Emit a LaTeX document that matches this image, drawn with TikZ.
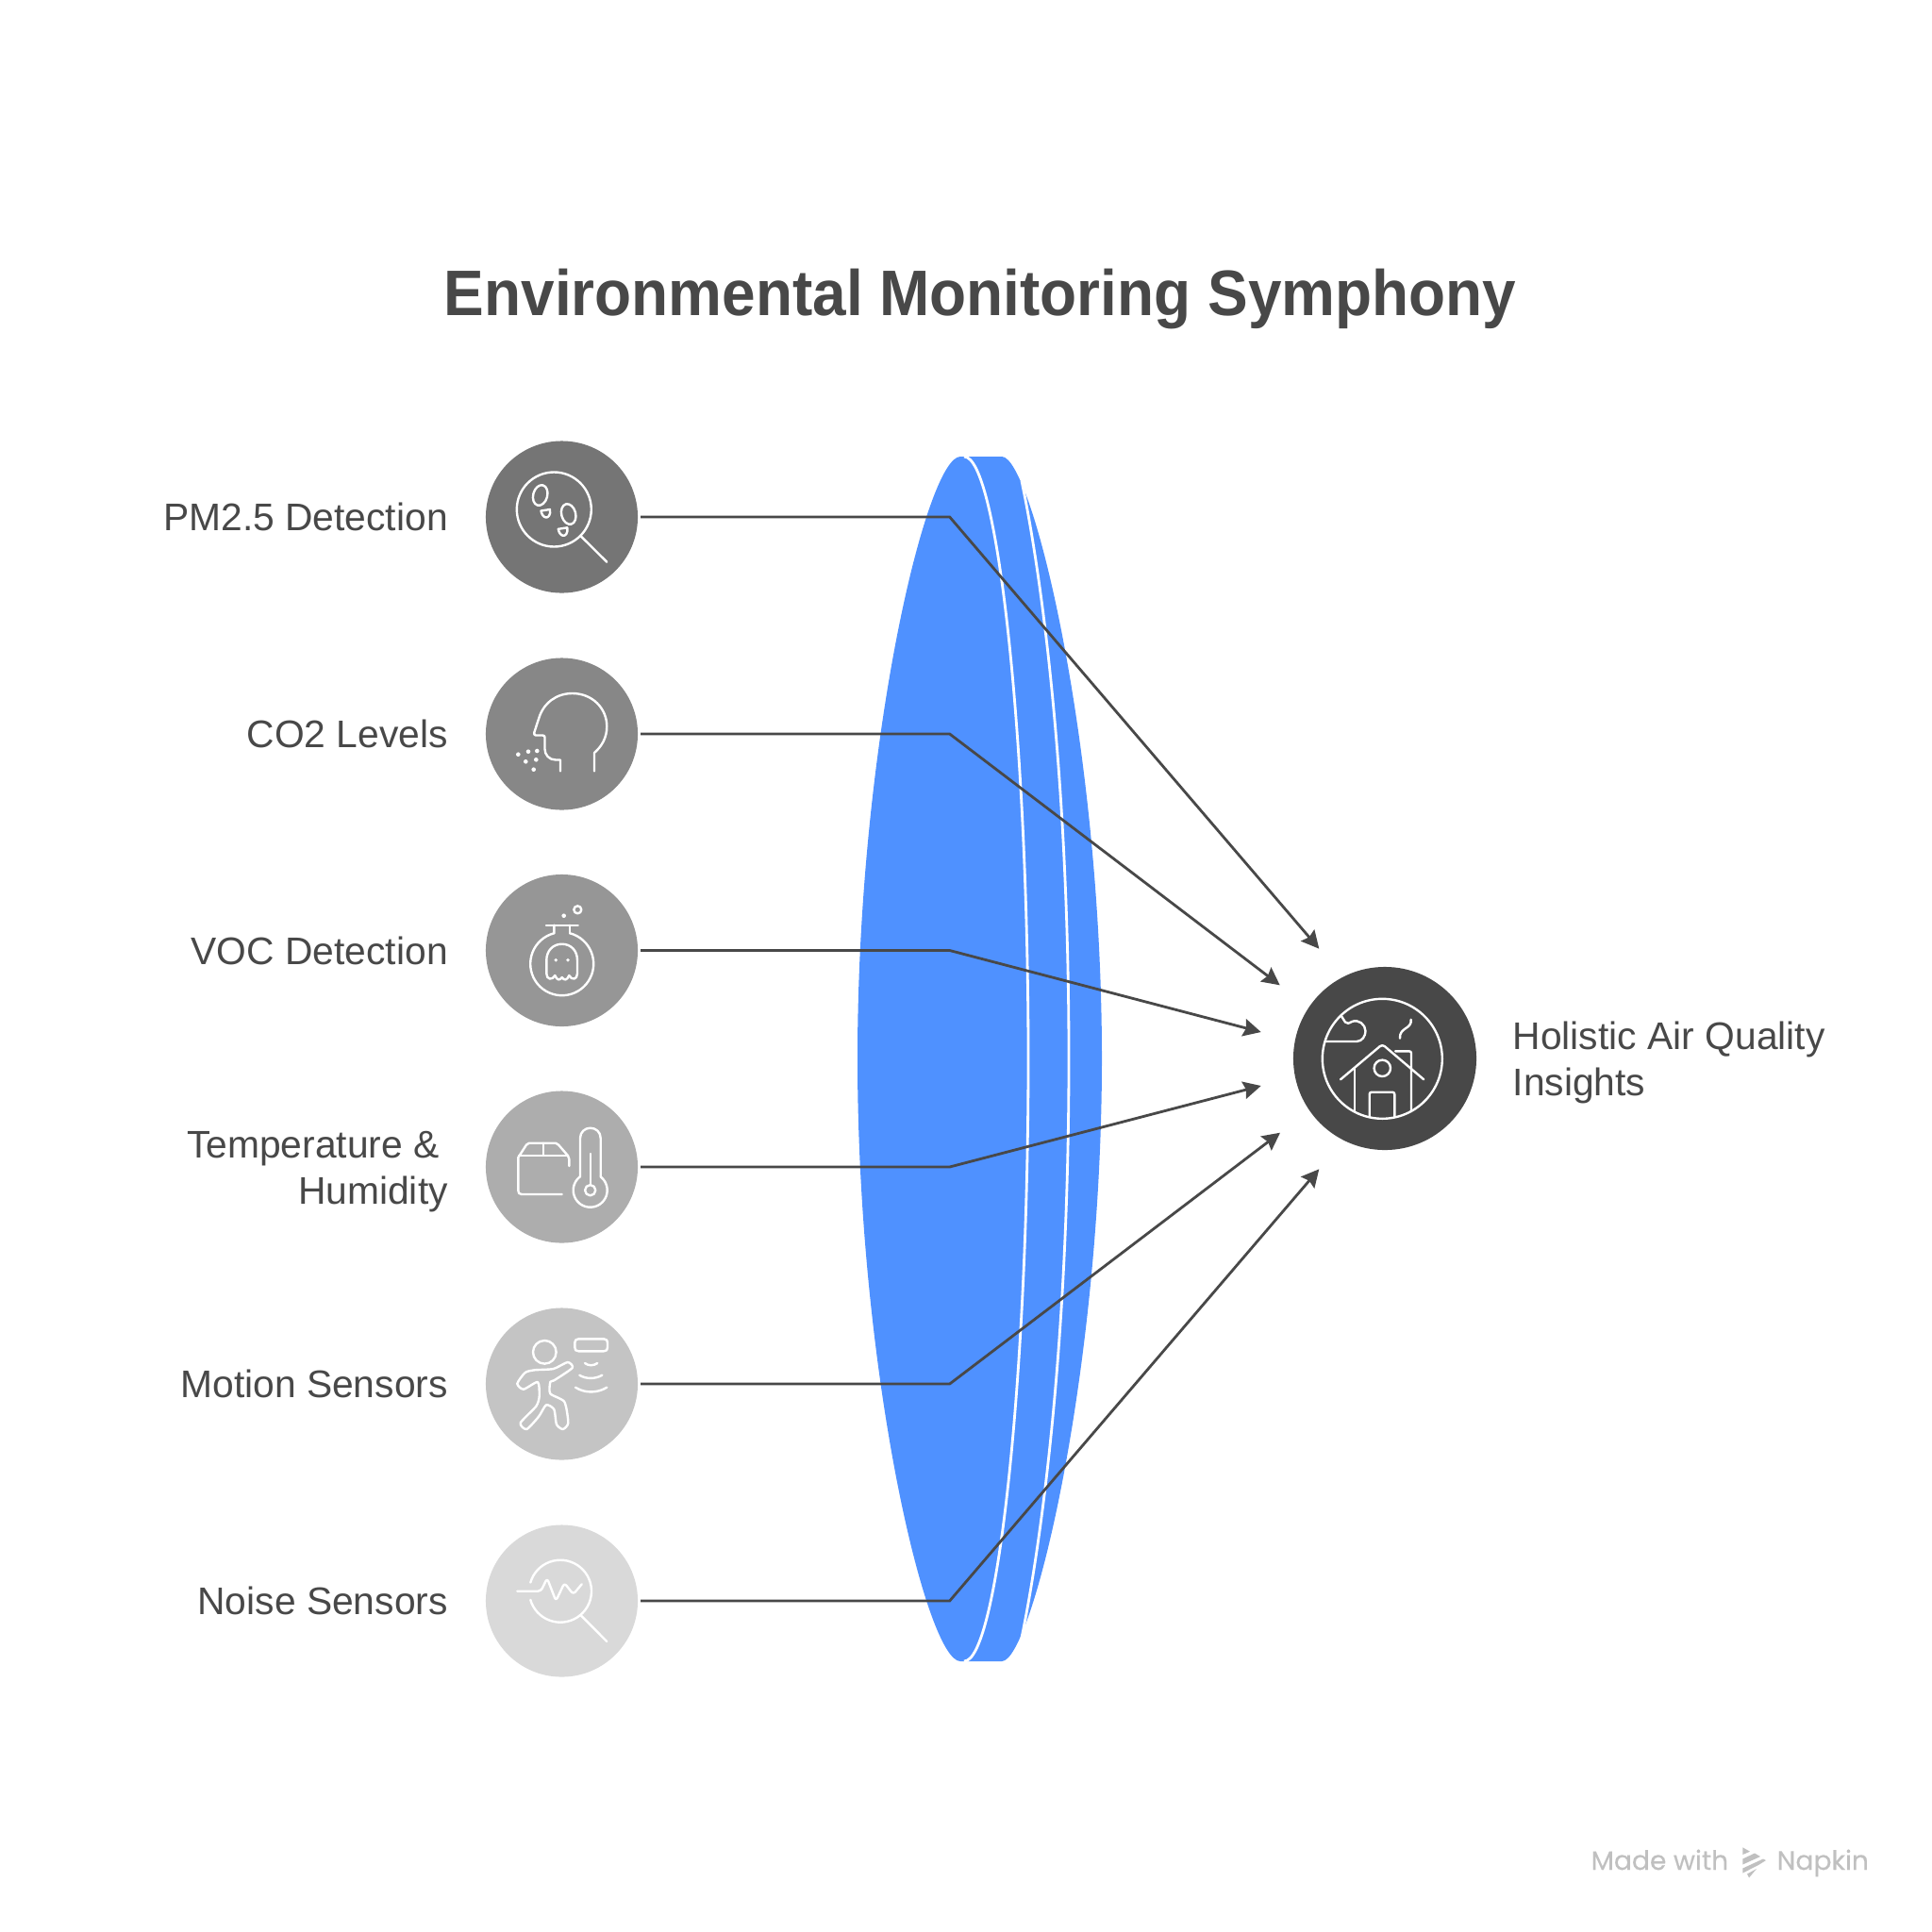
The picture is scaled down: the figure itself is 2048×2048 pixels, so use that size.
\documentclass[tikz,border=0pt]{standalone}
\usepackage{fontspec}
\setmainfont{Liberation Sans}
\newfontfamily\titlefont[FakeStretch=0.937]{Liberation Sans}
\newfontfamily\markfont[FakeBold=0.35]{Poppins}
\usetikzlibrary{arrows.meta}
\definecolor{inkGray}{HTML}{484848}
\definecolor{lensBlue}{HTML}{4F91FF}
\definecolor{markGray}{HTML}{C0C0C0}

\begin{document}
\begin{tikzpicture}[
  x=0.01cm,
  y=-0.01cm,
  sensor/.style={
    circle,
    inner sep=0pt,
    minimum size=16.1mm,
    outer sep=0.85pt,
  },
  tag/.style={
    inner sep=0pt,
    text=inkGray,
    font=\fontsize{11.6}{13.9}\selectfont,
  },
  link/.style={inkGray, line width=0.8pt, -{Stealth[length=5.3pt, width=5.3pt, inset=0.7pt]}},
  seam/.style={white, line width=0.8pt},
  icon/.style={white, line width=0.68pt, line cap=round, line join=round},
  speck/.style={white, draw=none},
]
  \useasboundingbox (0,0) rectangle (2048,2048);

  \node[tag, font=\titlefont\bfseries\fontsize{19.4}{23}\selectfont] (title) at (1039,317) {Environmental Monitoring Symphony};

  \fill[lensBlue] (1018,484) .. controls (982,484) and (909,790) .. (909,1122)
    .. controls (909,1454) and (982,1761) .. (1018,1761) -- (1062,1761)
    .. controls (1094,1761) and (1168,1454) .. (1168,1122)
    .. controls (1168,790) and (1094,484) .. (1062,484) -- cycle;
  \draw[seam] (1022,484) .. controls (1058,484) and (1090,790) .. (1090,1122)
    .. controls (1090,1454) and (1058,1761) .. (1022,1761);
  \draw[seam] (1083,510) .. controls (1100,590) and (1133,800) .. (1133,1122)
    .. controls (1133,1444) and (1100,1654) .. (1083,1736);

  \node[sensor, fill=black!54] (pm) at (595.5,548) {};
  \node[sensor, fill=black!47] (co) at (595.5,778) {};
  \node[sensor, fill=black!41] (voc) at (595.5,1007.5) {};
  \node[sensor, fill=black!32] (temp) at (595.5,1237) {};
  \node[sensor, fill=black!23] (motion) at (595.5,1467) {};
  \node[sensor, fill=black!15] (noise) at (595.5,1697) {};
  \node[sensor, fill=inkGray, minimum size=19.4mm] (air) at (1468,1122) {};

  \node[tag, anchor=base east] (pmtag) at (475.5,562) {PM2.5 Detection};
  \node[tag, anchor=base east] (cotag) at (475.5,792) {CO2 Levels};
  \node[tag, anchor=base east] (voctag) at (475.5,1022) {VOC Detection};
  \node[tag, anchor=east, align=right] (temptag) at (475.5,1242) {Temperature \&\kern2.6pt\\Humidity};
  \node[tag, anchor=base east] (motiontag) at (475.5,1481) {Motion Sensors};
  \node[tag, anchor=base east] (noisetag) at (475.5,1711) {Noise Sensors};
  \node[tag, anchor=west, align=left] (airtag) at (1603,1126) {Holistic Air Quality\\Insights};

  \coordinate (pmbend) at (1006.7,548);
  \coordinate (cobend) at (1006.7,778);
  \coordinate (vocbend) at (1006.7,1007.5);
  \coordinate (tempbend) at (1006.7,1237);
  \coordinate (motionbend) at (1006.7,1467);
  \coordinate (noisebend) at (1006.7,1697);
  \coordinate (pmtip) at (1398.3,1005.7);
  \coordinate (cotip) at (1356.7,1044.3);
  \coordinate (voctip) at (1336.7,1094);
  \coordinate (temptip) at (1336.7,1151);
  \coordinate (motiontip) at (1357,1200.7);
  \coordinate (noisetip) at (1398.3,1239.3);

  \draw[link] (pm.east) -- (pmbend) -- (pmtip);
  \draw[link] (co.east) -- (cobend) -- (cotip);
  \draw[link] (voc.east) -- (vocbend) -- (voctip);
  \draw[link] (temp.east) -- (tempbend) -- (temptip);
  \draw[link] (motion.east) -- (motionbend) -- (motiontip);
  \draw[link] (noise.east) -- (noisebend) -- (noisetip);

  \draw[icon] (587.3,540) circle[radius=39.5];
  \draw[icon] (615.7,568.3) -- (643.3,595.7);
  \draw[icon, rotate around={-15:(572.7,525)}] (572.7,525) ellipse[x radius=7.5, y radius=11];
  \draw[icon, rotate around={15:(602.7,545)}] (602.7,545) ellipse[x radius=7.5, y radius=11];
  \draw[icon] (573.5,541.5) -- (583,540) .. controls (584,546) and (581,549) .. (578.5,548.5)
    .. controls (576,548) and (574,545) .. cycle;
  \draw[icon] (591.8,560.8) -- (601.3,559.3) .. controls (602.3,565.3) and (599.3,568.3) .. (596.8,567.8)
    .. controls (594.3,567.3) and (592.3,564.3) .. cycle;

  \draw[icon] (594,817.3) -- (594,805.5) -- (589,805.5) .. controls (582,805.5) and (577.5,800) .. (577.5,794)
    -- (577.5,781.5) .. controls (577.5,780) and (576.5,779.5) .. (575,779.5) -- (568,779.5)
    .. controls (566.5,779.5) and (565.8,778) .. (566.3,776.5) -- (571,762)
    .. controls (576,745) and (590,735) .. (606.7,735) .. controls (628,735) and (643.3,751) .. (643.3,770)
    .. controls (643.3,782) and (638,791) .. (630,798) -- (630,817.3);
  \foreach \x/\y in {549.3/799.7, 560/796.7, 569.3/796, 557.3/807.3, 568.3/805.3, 565.7/815.7}
    \fill[speck] (\x,\y) circle[radius=2.3];

  \draw[icon] (612.3,964.3) circle[radius=4];
  \fill[speck] (597.7,970.7) circle[radius=2.3];
  \draw[icon] (579,980.7) -- (612.7,980.7);
  \draw[icon] (587.3,980.7) -- (587.3,989.5) plot[domain=-75:255, samples=50] ({595.7+33.5*cos(\x)},{1021.7+33.5*sin(\x)});
  \draw[icon] (604,980.7) -- (604,989.5);
  \draw[icon] (579.3,1018) .. controls (579.3,1008) and (586,1000.7) .. (595.7,1000.7)
    .. controls (605.5,1000.7) and (612,1008) .. (612,1018) -- (612,1032)
    .. controls (612,1038.5) and (606,1039.5) .. (603.3,1034)
    .. controls (601,1039.5) and (598,1039.5) .. (595.7,1036)
    .. controls (593.4,1039.5) and (590.5,1039.5) .. (588.3,1034)
    .. controls (585.5,1039.5) and (579.3,1038.5) .. (579.3,1032) -- cycle;
  \fill[speck] (589.3,1017.7) circle[radius=1.9];
  \fill[speck] (602,1017.7) circle[radius=1.9];

  \draw[icon] (595.7,1266) -- (553,1266) .. controls (550.5,1266) and (549.3,1264.5) .. (549.3,1262)
    -- (549.3,1227) -- (558,1213.5) .. controls (558.7,1212.3) and (559.5,1211.7) .. (561,1211.7)
    -- (589,1211.7) .. controls (590.5,1211.7) and (591,1212) .. (592,1213.5) -- (602,1225)
    .. controls (603,1226) and (603.3,1227) .. (603.3,1228.5) -- (603.3,1236);
  \draw[icon] (550,1225) -- (601,1225);
  \draw[icon] (576,1211.7) -- (576,1225);
  \draw[icon] (615,1247) -- (615,1206.5) .. controls (615,1200) and (620,1195.7) .. (625.8,1195.7)
    .. controls (631.7,1195.7) and (636.7,1200) .. (636.7,1206.5) -- (636.7,1247)
    -- plot[domain=-53:233, samples=40] ({625.7+18*cos(\x)},{1261.7+18*sin(\x)}) -- cycle;
  \draw[icon] (625.7,1261.7) circle[radius=5.6];
  \draw[icon] (625.7,1223) -- (625.7,1255.7);

  \draw[icon] (577.3,1433.3) circle[radius=12.3];
  \draw[icon] (613.3,1419.3) -- (640,1419.3) .. controls (643,1419.3) and (644,1421) .. (644,1423.3)
    -- (644,1428.3) .. controls (644,1431) and (643,1432.3) .. (640,1432.3) -- (613.3,1432.3)
    .. controls (610.5,1432.3) and (609.3,1431) .. (609.3,1428.3) -- (609.3,1423.3)
    .. controls (609.3,1421) and (610.5,1419.3) .. (613.3,1419.3);
  \draw[icon] (620,1445) .. controls (624,1448) and (629,1448) .. (633.3,1445);
  \draw[icon] (614.3,1457.7) .. controls (621,1462) and (631,1462) .. (638.3,1457.7);
  \draw[icon] (610,1470.7) .. controls (620,1477) and (633,1477) .. (643.3,1470.7);
  \draw[icon] plot[smooth cycle, tension=0.4] coordinates {(601.7,1444) (606.7,1450) (587.3,1463.3) (583.3,1465)
    (583.3,1477.3) (598.3,1486) (602.3,1508.3) (596.7,1515) (590,1510) (587.3,1494) (579,1489.3) (571,1501.7)
    (558.3,1515) (551.7,1508.3) (568.3,1490.7) (571.7,1480) (570,1465) (555,1472.7) (548.3,1466.7) (556.7,1455)
    (566.7,1452.3) (586.7,1451)};

  \draw[icon] plot[domain=196:524, samples=50] ({594+33*cos(\x)},{1686.7+33*sin(\x)});
  \draw[icon] (615.7,1712.3) -- (643.3,1740);
  \draw[icon, rounded corners=0.9pt] (548.3,1686.7) -- (573.3,1686.7) -- (580,1673) -- (589.3,1697) -- (598.3,1678) -- (607.7,1690) -- (616.7,1679.3);

  \draw[icon] (1465.3,1122.3) circle[radius=63.5];
  \draw[icon] (1405,1104) -- (1438,1104) .. controls (1444,1104) and (1447.5,1098) .. (1447.5,1093)
    .. controls (1447.5,1086) and (1440,1080) .. (1433,1083) .. controls (1430,1084.5) and (1428,1086) .. (1426,1083.5) -- (1421.7,1076.7);
  \draw[icon] (1495.7,1080.7) .. controls (1497,1091) and (1483,1089) .. (1484,1100.7);
  \draw[icon, rounded corners=0.9pt] (1421,1144.3) -- (1465.3,1107) -- (1509.3,1144.3);
  \draw[icon, rounded corners=0.6pt] (1479,1114.3) -- (1496,1114.3) -- (1496,1177.5);
  \draw[icon] (1436,1132.7) -- (1436,1178);
  \draw[icon, rounded corners=0.6pt] (1451.7,1184) -- (1451.7,1157.7) -- (1478.3,1157.7) -- (1478.3,1184);
  \draw[icon] (1465.3,1132.3) circle[radius=8.7];

  \node[inner sep=0pt, anchor=base west, text=markGray, font=\markfont\fontsize{8}{10}\selectfont] (made) at (1686,1982) {Made with};
  \node[inner sep=0pt, anchor=base west, text=markGray, font=\markfont\fontsize{8}{10}\selectfont] (napkin) at (1883,1982) {Napkin};
  \fill[markGray] (1847.3,1958.3) -- (1855,1962.7) -- (1847.3,1966) -- cycle;
  \fill[markGray] (1847.3,1970.5) -- (1860,1964.5) -- (1866,1968) -- (1847.3,1976.5) -- cycle;
  \fill[markGray] (1847.3,1980.5) -- (1869,1970.5) -- (1872,1972) -- (1864,1977) -- (1847.3,1985.5) -- cycle;
  \fill[markGray] (1854,1990.5) -- (1852,1986.5) -- (1862,1981) -- cycle;
\end{tikzpicture}
\end{document}
